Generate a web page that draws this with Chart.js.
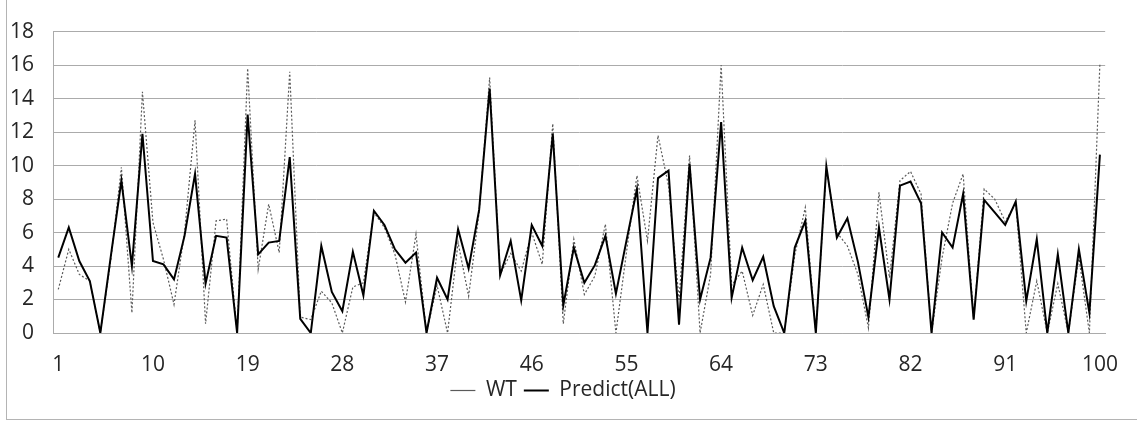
<!DOCTYPE html>
<html>
<head>
<meta charset="utf-8">
<script src="https://cdn.jsdelivr.net/npm/chart.js@4.4.0/dist/chart.umd.min.js"></script>
<style>
    body { margin: 0; background: #fff; overflow: hidden; }
    #wrap { position: relative; width: 1137px; height: 421px; }
    #frame { position: absolute; left: 6px; top: -10px; width: 1200px; height: 430px; box-sizing: border-box; border: 1px solid #b4b4b4; }
    canvas { position: absolute; left: 0; top: 0; }
</style>
</head>
<body>
<div id="wrap">
    <div id="frame"></div>
    <canvas id="myChart" width="1137" height="421"></canvas>
</div>
<script>
// x categories 1..100
const samples = [];
for (let i = 1; i <= 100; i++) samples.push(String(i));

const seriesNames = ["WT", "Predict(ALL)"];

const wtValues = [
    2.6, 5.0, 3.5, 3.1, 0, 4.4, 9.9, 1.2, 14.4, 6.6,
    4.4, 1.7, 6.0, 12.7, 0.55, 6.7, 6.8, 0, 15.8, 3.8,
    7.7, 4.8, 15.6, 0.95, 0.8, 2.5, 1.8, 0, 2.75, 3.0,
    7.2, 6.3, 4.7, 1.85, 5.9, 0, 2.85, 0, 5.4, 2.2,
    7.2, 15.25, 3.5, 4.75, 3.7, 6.0, 4.1, 12.5, 0.55, 5.6,
    2.3, 3.4, 6.5, 0, 4.8, 9.4, 5.5, 11.8, 8.8, 2.0,
    10.6, 0, 3.5, 16.0, 2.85, 3.7, 1.05, 2.9, 0, 0,
    4.65, 7.5, 0, 9.8, 6.0, 5.2, 3.5, 0.3, 8.4, 3.3,
    9.1, 9.65, 8.3, 0, 4.5, 7.75, 9.5, 0.85, 8.6, 8.0,
    6.65, 7.75, 0, 3.1, 0, 2.95, 0, 4.55, 0, 16.1
];

const predictValues = [
    4.5, 6.3, 4.3, 3.1, 0, 4.6, 9.1, 4.0, 11.9, 4.3,
    4.1, 3.2, 5.8, 9.5, 2.95, 5.8, 5.7, 0, 13.05, 4.7,
    5.4, 5.5, 10.5, 0.85, 0, 5.2, 2.45, 1.3, 4.85, 2.25,
    7.3, 6.45, 5.0, 4.2, 4.8, 0, 3.3, 2.0, 6.2, 3.85,
    7.35, 14.6, 3.45, 5.5, 1.95, 6.45, 5.2, 11.9, 1.65, 5.1,
    3.0, 4.05, 5.8, 2.35, 5.5, 8.6, 0, 9.25, 9.7, 0.5,
    10.1, 2.0, 4.5, 12.6, 2.1, 5.1, 3.15, 4.55, 1.6, 0,
    5.1, 6.7, 0, 9.95, 5.7, 6.85, 4.25, 0.95, 6.3, 2.0,
    8.8, 9.05, 7.75, 0, 6.0, 5.1, 8.3, 0.8, 7.95, 7.2,
    6.45, 7.85, 1.9, 5.6, 0, 4.7, 0, 5.0, 1.2, 10.65
];

const yMin = 0;
const yMax = 18;
const yStep = 2;
const xLabelEvery = 9;

const textColor = "#262626";
const gridColor = "#ababab";
const font = { family: "'Open Sans', 'Noto Sans', sans-serif", size: 21 };

const ctx = document.querySelector("#myChart").getContext("2d");
const myChart = new Chart(ctx, {
    type: "line",
    data: {
        labels: samples,
        datasets: [
            {
                label: seriesNames[0],
                data: wtValues,
                borderColor: "#5a5a5a",
                borderWidth: 1.2,
                borderDash: [2, 2],
                pointRadius: 0,
                tension: 0,
                order: 1,
            },
            {
                label: seriesNames[1],
                data: predictValues,
                borderColor: "#000000",
                borderWidth: 2,
                pointRadius: 0,
                tension: 0,
                order: 0,
            },
        ],
    },
    options: {
        responsive: false,
        animation: false,
        events: [],
        layout: {
            padding: { left: 6, right: 17, top: 19, bottom: 10 },
        },
        scales: {
            x: {
                offset: true,
                grid: { display: false, drawTicks: false },
                border: { display: true, color: gridColor, width: 1 },
                ticks: {
                    autoSkip: false,
                    maxRotation: 0,
                    padding: 19,
                    color: textColor,
                    font: font,
                    callback: function (val, i) {
                        return i % xLabelEvery === 0 ? samples[i] : "";
                    },
                },
                afterFit: function (s) {
                    s.height = 40;
                },
            },
            y: {
                min: yMin,
                max: yMax,
                grid: { color: gridColor, drawTicks: false },
                border: { display: true, color: gridColor, width: 1 },
                ticks: {
                    stepSize: yStep,
                    padding: 19,
                    color: textColor,
                    font: font,
                },
                afterFit: function (s) {
                    s.width = 47;
                },
            },
        },
        plugins: {
            tooltip: { enabled: false },
            legend: {
                position: "bottom",
                labels: {
                    usePointStyle: true,
                    pointStyle: "line",
                    pointStyleWidth: 25,
                    padding: 7,
                    color: textColor,
                    font: font,
                    sort: function (a, b) {
                        return a.datasetIndex - b.datasetIndex;
                    },
                },
            },
        },
    },
});
</script>
</body>
</html>
